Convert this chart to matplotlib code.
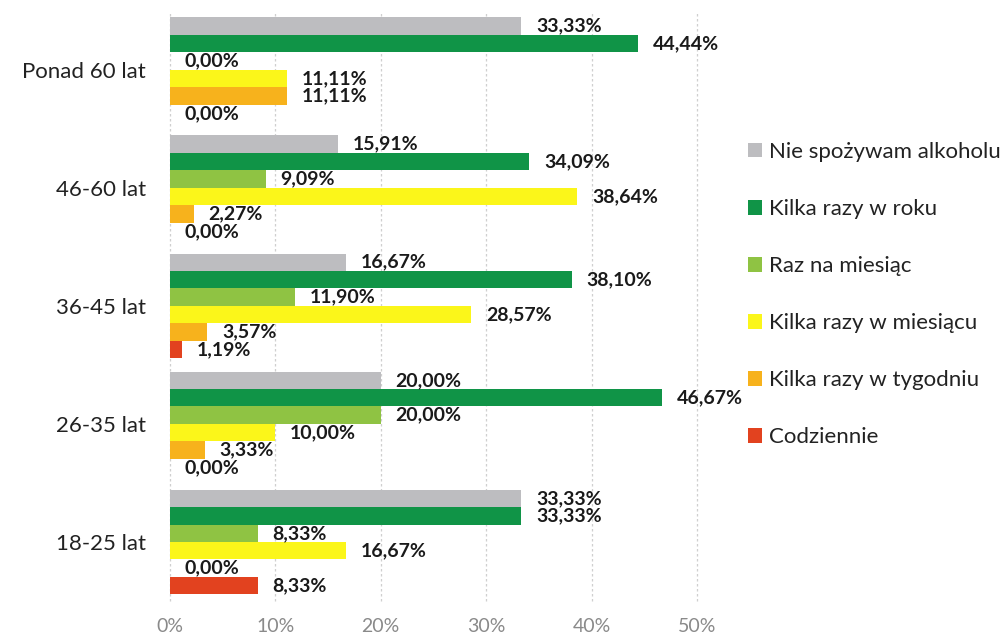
import matplotlib
matplotlib.use("Agg")
import matplotlib.pyplot as plt
from matplotlib.patches import Patch
import numpy as np

plt.rcParams['font.family'] = ['Lato', 'DejaVu Sans']

categories = ["Ponad 60 lat", "46-60 lat", "36-45 lat", "26-35 lat", "18-25 lat"]
series_names = ["Nie spożywam alkoholu", "Kilka razy w roku", "Raz na miesiąc",
                "Kilka razy w miesiącu", "Kilka razy w tygodniu", "Codziennie"]
nie_spozywam = [33.33, 15.91, 16.67, 20.00, 33.33]
kilka_w_roku = [44.44, 34.09, 38.10, 46.67, 33.33]
raz_na_miesiac = [0.00, 9.09, 11.90, 20.00, 8.33]
kilka_w_miesiacu = [11.11, 38.64, 28.57, 10.00, 16.67]
kilka_w_tygodniu = [11.11, 2.27, 3.57, 3.33, 0.00]
codziennie = [0.00, 0.00, 1.19, 0.00, 8.33]
xticks = [0, 10, 20, 30, 40, 50]
xtick_labels = ["0%", "10%", "20%", "30%", "40%", "50%"]

series = [nie_spozywam, kilka_w_roku, raz_na_miesiac, kilka_w_miesiacu, kilka_w_tygodniu, codziennie]
colors = ["#bdbdc0", "#109447", "#8fc343", "#fbf61a", "#f7b21c", "#e2421f"]

fig = plt.figure(figsize=(10.05, 6.36), dpi=100)
ax = fig.add_axes([0.169, 0.055, 0.5245, 0.928])

n_groups = len(categories)
centers = np.arange(n_groups)[::-1]  # first category on top
bh = 0.148
n_s = len(series)
for i, (vals, col) in enumerate(zip(series, colors)):
    offs = (n_s - 1) / 2 * bh - i * bh
    y = centers + offs
    ax.barh(y, vals, height=bh, color=col, edgecolor='none')
    for yy, v in zip(y, vals):
        ax.text(v + 1.4, yy, f"{v:.2f}%".replace('.', ','), va='center', ha='left',
                fontsize=14, fontweight='bold', color='#1a1a1a')

ax.set_xlim(0, 50)
ax.set_ylim(-0.5, 4.5)
ax.set_yticks(centers)
ax.set_yticklabels(categories, fontsize=16, color='#222222')
ax.set_xticks(xticks)
ax.set_xticklabels(xtick_labels, fontsize=14, color='#8a8a8a')
ax.tick_params(axis='both', length=0)
ax.tick_params(axis='x', pad=12)
ax.tick_params(axis='y', pad=17)
for s in ax.spines.values():
    s.set_visible(False)
for t in xticks:
    ax.axvline(t, color='#cfcfcf', lw=0.9, ls=(0, (2, 2)), zorder=0, clip_on=False)

handles = [Patch(facecolor=c, edgecolor='none') for c in colors]
fig.legend(handles, series_names, loc='upper left', bbox_to_anchor=(0.744, 0.777),
           frameon=False, fontsize=16, labelspacing=1.67, handlelength=0.65,
           handleheight=0.65, handletextpad=0.3, borderaxespad=0, borderpad=0,
           labelcolor='#222222')

fig.savefig("out.png", dpi=100)
